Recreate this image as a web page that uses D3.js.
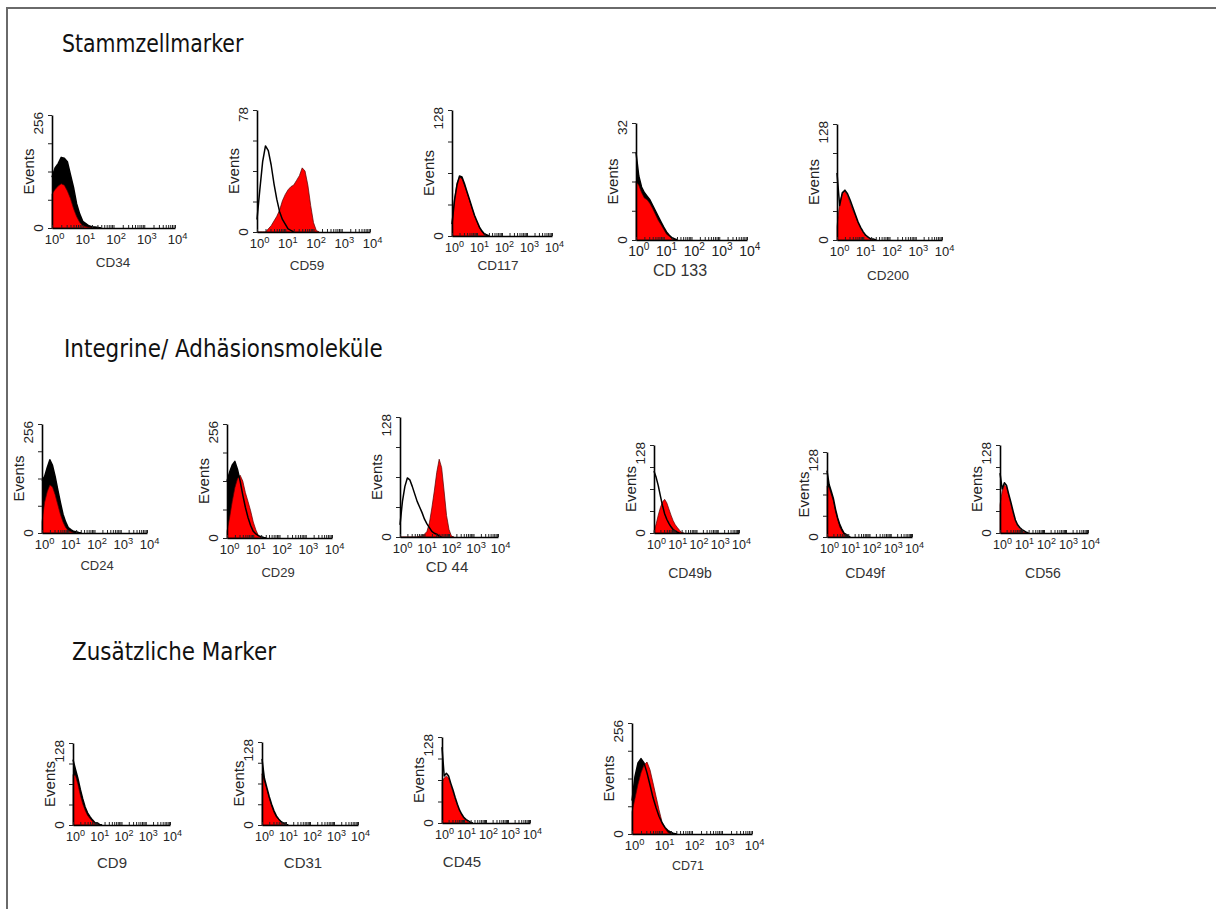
<!DOCTYPE html>
<html>
<head>
<meta charset="utf-8">
<script src="https://cdn.jsdelivr.net/npm/d3@7"></script>
<style>
  body { margin: 0; background: #fff; }
</style>
</head>
<body>
<div id="chart"></div>
<script>
// Überschriften der drei Gruppen
const sections = ["Stammzellmarker", "Integrine/ Adhäsionsmoleküle", "Zusätzliche Marker"];

// Marker (Beschriftung unter jedem Histogramm) und Maximum der Y-Achse
const markers = ["CD34", "CD59", "CD117", "CD 133", "CD200",
                 "CD24", "CD29", "CD 44", "CD49b", "CD49f", "CD56",
                 "CD9", "CD31", "CD45", "CD71"];
const axisMax = [256, 78, 128, 32, 128, 256, 256, 128, 128, 128, 128, 128, 128, 128, 256];

// Exponenten der X-Achse (10^0 .. 10^4), Kanalbreite in Dekaden
const decadeExp = ["0", "1", "2", "3", "4"];
const binStep = 0.1;

// Events pro Kanal, ab 10^0 – rot = Marker, schwarz = Isotypkontrolle
const cd34Red = [77, 87, 95, 100, 97, 84, 67, 44, 26, 13, 5, 3, 1, 0];
const cd34Ctrl = [115, 136, 146, 160, 158, 150, 121, 92, 55, 32, 15, 10, 5, 3, 2, 1, 0];
const cd59Red = [0, 0, 0, 0, 2, 4, 7, 10, 14, 20, 24, 27, 29, 30, 33, 36, 41, 39, 30, 17, 6, 1, 0];
const cd59Ctrl = [8, 27, 45, 55, 52, 43, 31, 21, 13, 8, 5, 2, 1, 0];
const cd117Red = [13, 38, 54, 60, 58, 51, 44, 36, 28, 20, 14, 8, 4, 1, 0];
const cd117Ctrl = [12, 36, 52, 61, 60, 53, 45, 37, 29, 21, 15, 9, 5, 2, 1, 0];
const cd133Red = [16, 15, 13, 11.5, 11, 10, 8.6, 7, 5.4, 4.2, 2.9, 1.6, 1, 0.3, 0];
const cd133Ctrl = [24, 17.5, 14.5, 13, 12, 11, 9.5, 8, 6.5, 5, 3.5, 2.2, 1.3, 0.6, 0.3, 0];
const cd200Red = [15, 41, 51, 54, 49, 41, 33, 27, 19, 13, 8, 4, 2, 1, 0];
const cd200Ctrl = [74, 38, 52, 55, 51, 44, 36, 28, 20, 14, 9, 5, 3, 1, 1, 0];

const cd24Red = [26, 72, 97, 113, 108, 90, 67, 44, 26, 13, 5, 3, 0];
const cd24Ctrl = [123, 133, 154, 172, 159, 133, 102, 72, 44, 26, 13, 8, 4, 3, 1, 0];
const cd29Red = [15, 46, 82, 113, 133, 141, 128, 102, 82, 61, 36, 18, 5, 0];
const cd29Ctrl = [128, 148, 164, 172, 154, 128, 97, 69, 46, 28, 15, 9, 5, 3, 1, 0];
const cd44Red = [0, 0, 0, 0, 0, 0, 0, 0, 1, 1, 3, 6, 15, 31, 49, 69, 83, 74, 49, 23, 8, 1, 0];
const cd44Ctrl = [13, 38, 54, 63, 61, 54, 46, 38, 32, 26, 19, 14, 10, 6, 4, 3, 1, 0];
const cd49bRed = [3, 13, 26, 37, 45, 49, 44, 35, 26, 18, 12, 8, 4, 1, 0];
const cd49bCtrl = [90, 81, 69, 54, 40, 28, 20, 14, 9, 5, 3, 1, 0];
const cd49fRed = [77, 74, 64, 54, 38, 26, 15, 9, 4, 1, 0];
const cd49fCtrl = [100, 79, 69, 58, 42, 29, 19, 12, 6, 4, 1, 0];
const cd56Red = [41, 61, 70, 67, 54, 41, 28, 18, 10, 6, 4, 1, 0];
const cd56Ctrl = [87, 64, 73, 69, 56, 44, 31, 19, 12, 8, 5, 3, 1, 0];

const cd9Red = [79, 77, 64, 47, 33, 23, 15, 10, 6, 3, 1, 0];
const cd9Ctrl = [102, 87, 73, 56, 41, 28, 19, 13, 8, 4, 3, 1, 0];
const cd31Red = [79, 67, 55, 41, 29, 19, 12, 8, 4, 3, 0];
const cd31Ctrl = [102, 72, 58, 44, 32, 22, 14, 9, 5, 3, 1, 0];
const cd45Red = [61, 67, 70, 67, 56, 46, 36, 26, 18, 12, 6, 4, 1, 0];
const cd45Ctrl = [113, 70, 74, 70, 59, 49, 38, 28, 19, 13, 8, 5, 3, 1, 0];
const cd71Red = [51, 82, 115, 141, 159, 166, 148, 118, 87, 56, 28, 13, 3, 0];
const cd71Ctrl = [77, 133, 164, 174, 164, 141, 113, 84, 61, 41, 26, 15, 8, 4, 1, 0];

const redSeries = [cd34Red, cd59Red, cd117Red, cd133Red, cd200Red,
                   cd24Red, cd29Red, cd44Red, cd49bRed, cd49fRed, cd56Red,
                   cd9Red, cd31Red, cd45Red, cd71Red];
const ctrlSeries = [cd34Ctrl, cd59Ctrl, cd117Ctrl, cd133Ctrl, cd200Ctrl,
                    cd24Ctrl, cd29Ctrl, cd44Ctrl, cd49bCtrl, cd49fCtrl, cd56Ctrl,
                    cd9Ctrl, cd31Ctrl, cd45Ctrl, cd71Ctrl];

// Lage der Überschriften und der einzelnen Histogramme (Pixel)
const titlePos = [
  { x: 62, y: 52, size: 20.5 },
  { x: 64, y: 357, size: 21.5 },
  { x: 72, y: 660, size: 21.5 }
];
// x0/x1 = X-Achse, top/base = Y-Achse, lx/ly = Beschriftung, fill = Kontrolle gefüllt
const panels = [
  { x0: 52, x1: 175, top: 115, base: 228, lx: 113, ly: 267, fs: 13.5, tfs: 13, fill: true },
  { x0: 257, x1: 370, top: 110, base: 232, lx: 307, ly: 270, fs: 13.5, tfs: 13, fill: false },
  { x0: 452, x1: 552, top: 110, base: 236, lx: 498, ly: 270, fs: 13.5, tfs: 12.5, fill: true },
  { x0: 636, x1: 747, top: 123, base: 240, lx: 680, ly: 276, fs: 16, tfs: 14, fill: true },
  { x0: 837, x1: 942, top: 124, base: 240, lx: 888, ly: 280, fs: 13.5, tfs: 13, fill: false },

  { x0: 42, x1: 147, top: 424, base: 533, lx: 97, ly: 570, fs: 13, tfs: 13, fill: true },
  { x0: 227, x1: 332, top: 424, base: 538, lx: 278, ly: 577, fs: 13, tfs: 13, fill: true },
  { x0: 400, x1: 498, top: 417, base: 537, lx: 447, ly: 572, fs: 15, tfs: 13, fill: false },
  { x0: 654, x1: 739, top: 445, base: 533, lx: 690, ly: 578, fs: 14, tfs: 12.5, fill: false },
  { x0: 827, x1: 912, top: 452, base: 537, lx: 865, ly: 578, fs: 14, tfs: 12.5, fill: true },
  { x0: 1000, x1: 1088, top: 445, base: 533, lx: 1043, ly: 578, fs: 14, tfs: 12.5, fill: false },

  { x0: 73, x1: 170, top: 743, base: 825, lx: 112, ly: 868, fs: 15, tfs: 12.5, fill: true },
  { x0: 262, x1: 358, top: 742, base: 825, lx: 303, ly: 868, fs: 15, tfs: 12.5, fill: true },
  { x0: 442, x1: 530, top: 737, base: 823, lx: 462, ly: 867, fs: 15, tfs: 12.5, fill: false },
  { x0: 632, x1: 752, top: 723, base: 834, lx: 688, ly: 870, fs: 12.5, tfs: 13, fill: true }
];

const font = "'Liberation Sans', Arial, sans-serif";
const textColor = "#222";

const svg = d3.select("#chart")
  .append("svg")
  .attr("width", 1216)
  .attr("height", 909);

svg.append("rect").attr("width", 1216).attr("height", 909).attr("fill", "#fff");

// Rahmen links und oben
svg.append("path")
  .attr("d", "M7,909V8H1216")
  .attr("fill", "none")
  .attr("stroke", "#6a6a6a")
  .attr("stroke-width", 2);

// Gruppenüberschriften
sections.forEach((t, i) => {
  svg.append("text")
    .attr("transform", `translate(${titlePos[i].x},${titlePos[i].y}) scale(1,1.18)`)
    .attr("font-family", "'DejaVu Sans', sans-serif")
    .attr("font-size", titlePos[i].size)
    .attr("fill", "#111")
    .text(t);
});

markers.forEach((name, i) => {
  const p = panels[i];
  const max = axisMax[i];
  const g = svg.append("g");

  const x = d3.scaleLog().domain([1, 1e4]).range([p.x0, p.x1]);
  const y = d3.scaleLinear().domain([0, max]).range([p.base, p.top]);

  const toPts = arr => arr.map((v, k) => [Math.pow(10, k * binStep), v]);
  const red = toPts(redSeries[i]);
  const ctrl = toPts(ctrlSeries[i]);

  const area = d3.area().x(d => x(d[0])).y0(y(0)).y1(d => y(d[1]));
  const line = d3.line().x(d => x(d[0])).y(d => y(d[1]));

  // Kontrolle gefüllt (falls dicht überlagert), dann Marker rot, dann Kontur
  if (p.fill) {
    g.append("path").datum(ctrl).attr("d", area).attr("fill", "#000");
  }
  g.append("path").datum(red)
    .attr("d", area)
    .attr("fill", "#f00")
    .attr("stroke", "#500")
    .attr("stroke-width", 0.7);
  g.append("path").datum(ctrl)
    .attr("d", line)
    .attr("fill", "none")
    .attr("stroke", "#000")
    .attr("stroke-width", 1.5)
    .attr("stroke-linejoin", "round");

  // Y-Achse mit Viertel-Ticks
  const yAxis = d3.axisLeft(y)
    .tickValues(d3.range(5).map(k => max * k / 4))
    .tickSize(4)
    .tickSizeOuter(0)
    .tickFormat("");
  const ya = g.append("g").attr("transform", `translate(${p.x0},0)`).call(yAxis);

  // X-Achse logarithmisch, kleine Ticks nach oben
  const xAxis = d3.axisBottom(x)
    .tickValues(x.ticks())
    .tickSize(-3)
    .tickSizeOuter(0)
    .tickFormat("");
  const xa = g.append("g").attr("transform", `translate(0,${p.base})`).call(xAxis);

  [ya, xa].forEach(a => {
    a.select(".domain").attr("stroke", "#000").attr("stroke-width", 1.6);
    a.selectAll(".tick line").attr("stroke", "#222").attr("stroke-width", 1);
  });

  // Beschriftung der Y-Achse (gedreht)
  g.append("text")
    .attr("transform", `translate(${p.x0 - 9},${p.top - 3}) rotate(-90)`)
    .attr("text-anchor", "end")
    .attr("font-family", font)
    .attr("font-size", 13.5)
    .attr("fill", textColor)
    .text(max);
  g.append("text")
    .attr("transform", `translate(${p.x0 - 9},${p.base}) rotate(-90)`)
    .attr("text-anchor", "middle")
    .attr("font-family", font)
    .attr("font-size", 13.5)
    .attr("fill", textColor)
    .text("0");
  g.append("text")
    .attr("transform", `translate(${p.x0 - 18},${(p.top + p.base) / 2}) rotate(-90)`)
    .attr("text-anchor", "middle")
    .attr("font-family", font)
    .attr("font-size", 15)
    .attr("fill", textColor)
    .text("Events");

  // Dekaden 10^0 .. 10^4
  decadeExp.forEach(e => {
    const t = g.append("text")
      .attr("x", x(Math.pow(10, +e)) - 0.556 * p.tfs)
      .attr("y", p.base + 16)
      .attr("font-family", font)
      .attr("font-size", p.tfs)
      .attr("fill", textColor);
    t.append("tspan").text("10");
    t.append("tspan")
      .attr("dy", -0.42 * p.tfs)
      .attr("font-size", p.tfs * 0.72)
      .text(e);
  });

  // Markername
  g.append("text")
    .attr("x", p.lx)
    .attr("y", p.ly)
    .attr("text-anchor", "middle")
    .attr("font-family", font)
    .attr("font-size", p.fs)
    .attr("fill", "#333")
    .text(name);
});
</script>
</body>
</html>
